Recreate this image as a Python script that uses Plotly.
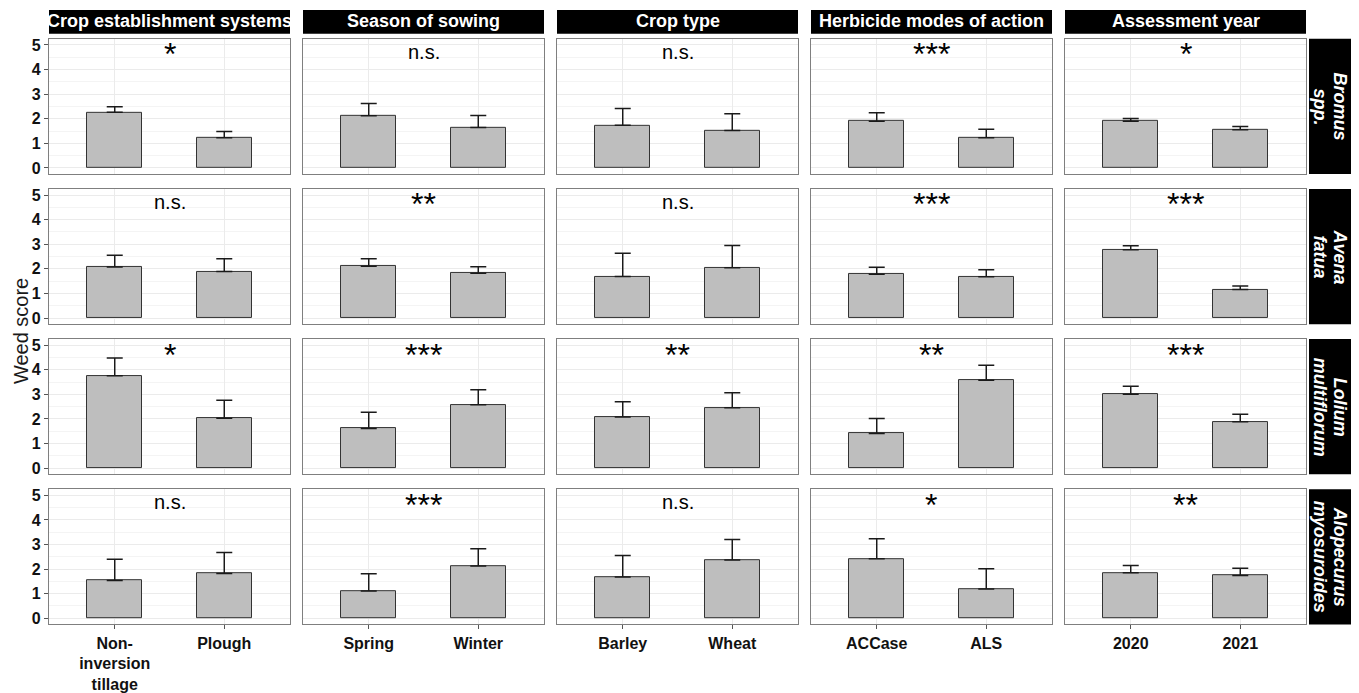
import plotly.graph_objects as go

FACTORS = [
    "Crop establishment systems",
    "Season of sowing",
    "Crop type",
    "Herbicide modes of action",
    "Assessment year",
]
LEVELS = [
    ["Non-<br>inversion<br>tillage", "Plough"],
    ["Spring", "Winter"],
    ["Barley", "Wheat"],
    ["ACCase", "ALS"],
    ["2020", "2021"],
]
SPECIES = [
    ("Bromus", "spp."),
    ("Avena", "fatua"),
    ("Lolium", "multiflorum"),
    ("Alopecurus", "myosuroides"),
]

# mean weed score per species (rows) and factor (cols), two levels each
MEANS = [
    [[2.26, 1.23], [2.12, 1.64], [1.73, 1.52], [1.90, 1.23], [1.90, 1.55]],
    [[2.07, 1.89], [2.11, 1.82], [1.69, 2.04], [1.78, 1.68], [2.78, 1.16]],
    [[3.76, 2.03], [1.61, 2.58], [2.08, 2.46], [1.41, 3.57], [3.01, 1.89]],
    [[1.54, 1.82], [1.11, 2.13], [1.68, 2.37], [2.42, 1.19], [1.85, 1.74]],
]
# top of the error bar
UPPER = [
    [[2.49, 1.48], [2.62, 2.13], [2.42, 2.20], [2.24, 1.57], [2.01, 1.68]],
    [[2.55, 2.41], [2.41, 2.09], [2.63, 2.95], [2.06, 1.96], [2.94, 1.30]],
    [[4.48, 2.76], [2.27, 3.19], [2.70, 3.07], [2.02, 4.19], [3.33, 2.19]],
    [[2.40, 2.67], [1.81, 2.83], [2.55, 3.20], [3.23, 2.01], [2.15, 2.03]],
]
SIGNIF = [
    ["*", "n.s.", "n.s.", "***", "*"],
    ["n.s.", "**", "n.s.", "***", "***"],
    ["*", "***", "**", "**", "***"],
    ["n.s.", "***", "n.s.", "*", "**"],
]

# the page puts the figure 8px in from the top-left corner
OFF = 8
FW, FH = 1359 - OFF, 693 - OFF
COL_X0, COL_W, COL_STEP = 49, 241, 254
ROW_Y0, ROW_H, ROW_STEP = 37, 136, 151
FONT = "Liberation Sans, Arial, sans-serif"


def px(p):
    return (p - OFF) / FW


def py(p):
    return min(1.0, 1 - (p - OFF) / FH)


def main():
    fig = go.Figure()
    shapes = []
    annotations = []

    for r in range(4):
        for c in range(5):
            k = r * 5 + c + 1
            xa = "x" if k == 1 else f"x{k}"
            ya = "y" if k == 1 else f"y{k}"
            mean = MEANS[r][c]
            err = [u - m for u, m in zip(UPPER[r][c], mean)]
            cats = list(range(2))
            fig.add_trace(
                go.Bar(
                    x=cats,
                    y=mean,
                    width=0.5,
                    marker_color="#bebebe",
                    marker_line_color="#333333",
                    marker_line_width=1,
                    error_y=dict(
                        type="data",
                        symmetric=False,
                        array=err,
                        arrayminus=[0, 0],
                        color="#1a1a1a",
                        thickness=1.5,
                        width=8,
                    ),
                    xaxis=xa,
                    yaxis=ya,
                    showlegend=False,
                    hoverinfo="skip",
                )
            )

            x0 = px(COL_X0 + COL_STEP * c)
            x1 = px(COL_X0 + COL_STEP * c + COL_W)
            yt = py(ROW_Y0 + ROW_STEP * r)
            yb = py(ROW_Y0 + ROW_STEP * r + ROW_H)

            fig.layout[f"xaxis{k}"] = dict(
                domain=[x0, x1],
                anchor=ya,
                range=[-0.6, 1.6],
                tickvals=cats,
                ticktext=LEVELS[c] if r == 3 else ["", ""],
                ticks="outside" if r == 3 else "",
                ticklen=4,
                tickcolor="#555555",
                tickfont=dict(family=FONT, size=16, color="#111111", weight="bold"),
                showgrid=True,
                gridcolor="#ebebeb",
                gridwidth=1,
                showline=True,
                linecolor="#7f7f7f",
                linewidth=1.2,
                mirror=True,
                zeroline=False,
                fixedrange=True,
            )
            fig.layout[f"yaxis{k}"] = dict(
                domain=[yb, yt],
                anchor=xa,
                range=[-0.25, 5.25],
                tickvals=[0, 1, 2, 3, 4, 5],
                showticklabels=(c == 0),
                ticks="outside" if c == 0 else "",
                ticklen=4,
                tickcolor="#555555",
                tickfont=dict(family=FONT, size=16, color="#111111", weight="bold"),
                showgrid=True,
                gridcolor="#ebebeb",
                gridwidth=1,
                minor=dict(dtick=0.5, showgrid=True, gridcolor="#f4f4f4", gridwidth=0.6),
                showline=True,
                linecolor="#7f7f7f",
                linewidth=1.2,
                mirror=True,
                zeroline=False,
                fixedrange=True,
            )

            label = SIGNIF[r][c]
            stars = label != "n.s."
            annotations.append(
                dict(
                    x=0.5,
                    y=4.62 if stars else 4.72,
                    xref=xa,
                    yref=ya,
                    text=label,
                    showarrow=False,
                    xanchor="center",
                    yanchor="middle",
                    font=dict(family=FONT, size=32 if stars else 20, color="black"),
                )
            )

    # strips on top
    for c in range(5):
        x0 = px(COL_X0 + COL_STEP * c)
        x1 = px(COL_X0 + COL_STEP * c + COL_W)
        shapes.append(
            dict(type="rect", xref="paper", yref="paper", x0=x0, x1=x1,
                 y0=py(32), y1=py(5), fillcolor="black", line_width=0)
        )
        annotations.append(
            dict(x=(x0 + x1) / 2, y=py(19), xref="paper", yref="paper",
                 text=f"<b>{FACTORS[c]}</b>", showarrow=False,
                 xanchor="center", yanchor="middle",
                 font=dict(family=FONT, size=18, color="white"))
        )

    # strips on the right, two rotated lines each
    for r in range(4):
        yt = py(ROW_Y0 + ROW_STEP * r)
        yb = py(ROW_Y0 + ROW_STEP * r + ROW_H)
        shapes.append(
            dict(type="rect", xref="paper", yref="paper", x0=px(1309), x1=px(1354),
                 y0=yb, y1=yt, fillcolor="black", line_width=0)
        )
        for line, xpos in zip(SPECIES[r], (1340, 1320)):
            annotations.append(
                dict(x=px(xpos), y=(yb + yt) / 2, xref="paper", yref="paper",
                     text=f"<b><i>{line}</i></b>", showarrow=False,
                     textangle=90, xanchor="center", yanchor="middle",
                     font=dict(family=FONT, size=18, color="white"))
            )

    annotations.append(
        dict(x=px(21), y=py(331), xref="paper", yref="paper",
             text="Weed score", showarrow=False, textangle=-90,
             xanchor="center", yanchor="middle",
             font=dict(family=FONT, size=20, color="#1a1a1a"))
    )

    fig.update_layout(
        width=FW,
        height=FH,
        margin=dict(l=0, r=0, t=0, b=0),
        plot_bgcolor="white",
        paper_bgcolor="white",
        bargap=0,
        shapes=shapes,
        annotations=annotations,
        font_family=FONT,
    )

    fig.write_html("out.html")


if __name__ == "__main__":
    main()
